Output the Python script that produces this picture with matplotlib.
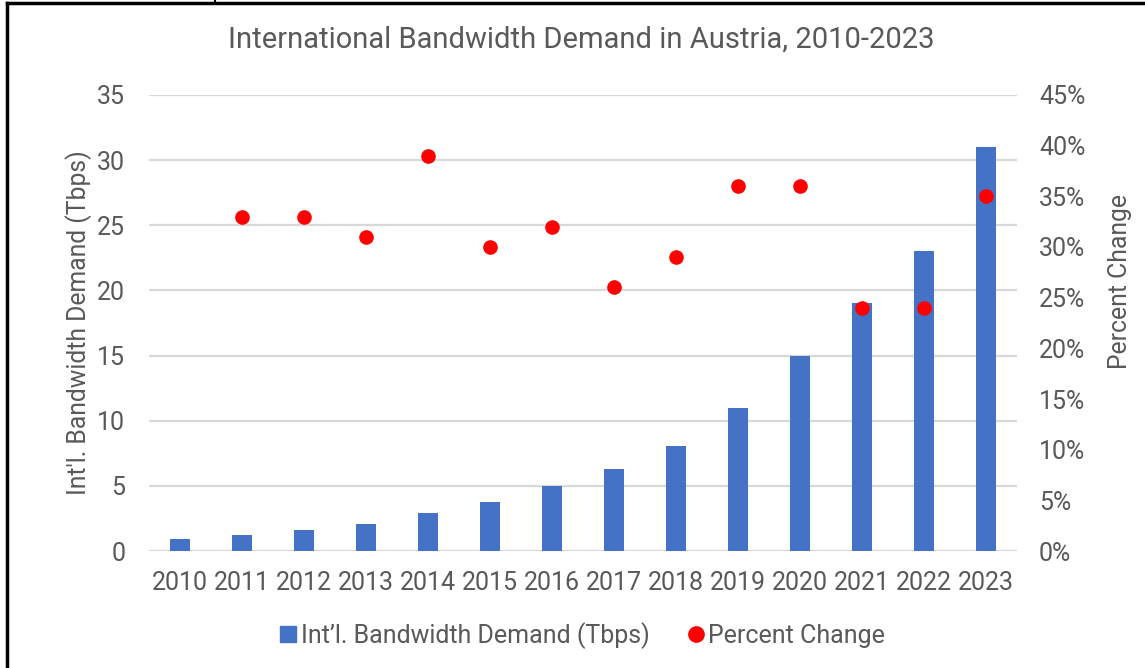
import numpy as np
import matplotlib
matplotlib.use("Agg")
import matplotlib.pyplot as plt
from matplotlib.lines import Line2D
from matplotlib.ticker import FuncFormatter

# ================================
# DATA
# ================================
years = ["2010", "2011", "2012", "2013", "2014", "2015", "2016",
         "2017", "2018", "2019", "2020", "2021", "2022", "2023"]
demand_tbps = [0.9, 1.2, 1.6, 2.1, 2.9, 3.8, 5.0, 6.3, 8.1, 11, 15, 19, 23, 31]
pct_change = [np.nan, 33, 33, 31, 39, 30, 32, 26, 29, 36, 36, 24, 24, 35]

# ================================
# STYLE
# ================================
plt.rcParams["font.family"] = ["Roboto", "DejaVu Sans"]
grey = "#595959"
blue = "#4472C4"

fig = plt.figure(figsize=(11.45, 6.68), dpi=100)
ax = fig.add_axes([0.130, 0.175, 0.758, 0.683])
ax2 = ax.twinx()

x = np.arange(len(years))

ax.set_axisbelow(True)
ax.bar(x, demand_tbps, width=0.32, color=blue, zorder=2,
       label="Int\u2019l. Bandwidth Demand (Tbps)")
ax2.plot(x, pct_change, "o", color="#FF0000", markersize=9.5,
         label="Percent Change", zorder=3)

ax.set_xlim(-0.5, len(years) - 0.5)
ax.set_ylim(0, 35)
ax2.set_ylim(0, 45)
ax.set_yticks(np.arange(0, 36, 5))
ax2.set_yticks(np.arange(0, 46, 5))
ax2.yaxis.set_major_formatter(FuncFormatter(lambda v, p: f"{v:.0f}%"))

ax.set_xticks(x)
ax.set_xticklabels(years)

ax.grid(axis="y", color="#D9D9D9", linewidth=1.6, zorder=0)

for a in (ax, ax2):
    for s in a.spines.values():
        s.set_visible(False)
    a.tick_params(length=0, labelsize=18, colors=grey)

ax.tick_params(axis="y", pad=17)
ax.tick_params(axis="x", pad=14)
ax2.tick_params(axis="y", pad=16)

ax.set_ylabel("Int'l. Bandwidth Demand (Tbps)", fontsize=17.8, color=grey,
              labelpad=4)
ax2.set_ylabel("Percent Change", fontsize=17.8, color=grey)
ax2.yaxis.set_label_coords(1.105, 0.59)

fig.text(0.508, 0.94, "International Bandwidth Demand in Austria, 2010-2023",
         ha="center", va="center", fontsize=21, color=grey)

handles = [
    Line2D([], [], marker="s", linestyle="", color=blue, markersize=11),
    Line2D([], [], marker="o", linestyle="", color="#FF0000", markersize=11),
]
labels = ["Int\u2019l. Bandwidth Demand (Tbps)", "Percent Change"]
fig.legend(handles, labels, loc="center", bbox_to_anchor=(0.509, 0.049),
           ncol=2, frameon=False, fontsize=18, labelcolor=grey,
           handletextpad=0.2, columnspacing=1.55, handlelength=0.6)

# frame lines of the original screenshot
fig.add_artist(Line2D([0.006, 1.0], [0.9955, 0.9955], color="black",
                      linewidth=2.5, transform=fig.transFigure))
fig.add_artist(Line2D([0.0065, 0.0065], [0.0, 0.9955], color="black",
                      linewidth=2.5, transform=fig.transFigure))
fig.add_artist(Line2D([0.188, 0.188], [0.9955, 1.0], color="black",
                      linewidth=1.5, transform=fig.transFigure))

fig.savefig("out.png", dpi=100)
